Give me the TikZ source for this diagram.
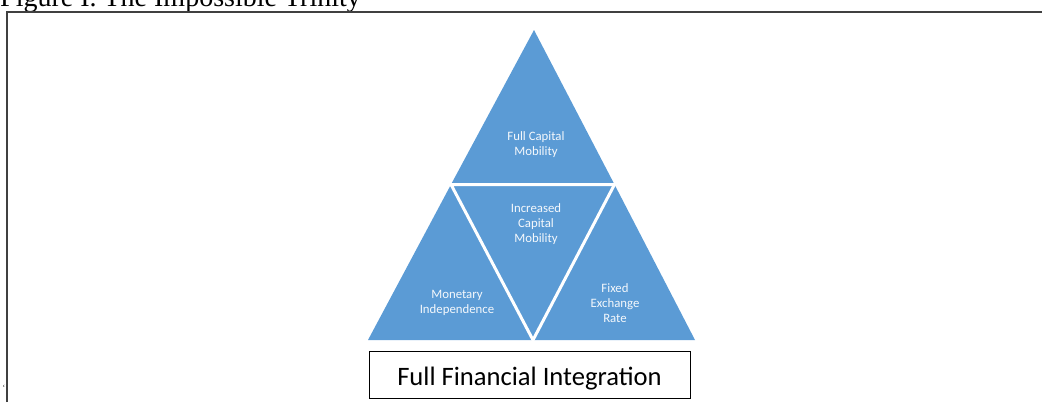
\documentclass[tikz,border=0pt]{standalone}
\usepackage{fontspec}
\setmainfont{Liberation Serif}
\newfontfamily\calfont{Carlito}
\definecolor{triblue}{HTML}{5B9BD5}
\definecolor{framegray}{HTML}{404040}
\begin{document}
\begin{tikzpicture}[x=1pt,y=-1pt,
  tri/.style={fill=triblue},
  gap/.style={draw=white,line width=3pt},
  lbl/.style={text=white!93!triblue,font=\calfont\fontsize{12.8}{15}\selectfont,align=center,inner sep=0pt},
  frameline/.style={draw=framegray,line width=1.3pt}]
\useasboundingbox (0,0) rectangle (1042,402);
\node[anchor=base west,inner sep=0pt,font=\fontsize{28}{32}\selectfont] (title) at (0,6) {Figure I. The Impossible Trinity};
\coordinate (fa) at (7,402);
\coordinate (fb) at (7,12);
\coordinate (fc) at (1042,12);
\draw[frameline] (fa) -- (fb) -- (fc);
% triangle vertices
\coordinate (A) at (534,30);
\coordinate (L) at (368,340);
\coordinate (R) at (695,340);
\coordinate (ML) at (451,184.5);
\coordinate (MR) at (614.5,184.5);
\coordinate (MB) at (533,340);
\fill[tri] (A) -- (MR) -- (ML) -- cycle;
\fill[tri] (ML) -- (MB) -- (L) -- cycle;
\fill[tri] (MR) -- (R) -- (MB) -- cycle;
\fill[tri] (ML) -- (MR) -- (MB) -- cycle;
\draw[gap] (ML) -- (MR) -- (MB) -- cycle;
\node[lbl] (top) at (536,145) {Full Capital\\Mobility};
\node[lbl] (mid) at (536,224) {Increased\\Capital\\Mobility};
\node[lbl] (left) at (457,303) {Monetary\\Independence};
\node[lbl] (right) at (615,303) {Fixed\\Exchange\\Rate};
\node[draw=black,line width=0.9pt,minimum width=321pt,minimum height=47pt,inner sep=0pt,text height=24pt,text depth=3pt,font=\calfont\fontsize{26.6}{30}\selectfont] (box) at (529.5,374.5) {Full Financial Integration};
\node[inner sep=0pt,font=\fontsize{8}{8}\selectfont] (tick) at (4,388) {`};
\end{tikzpicture}
\end{document}
